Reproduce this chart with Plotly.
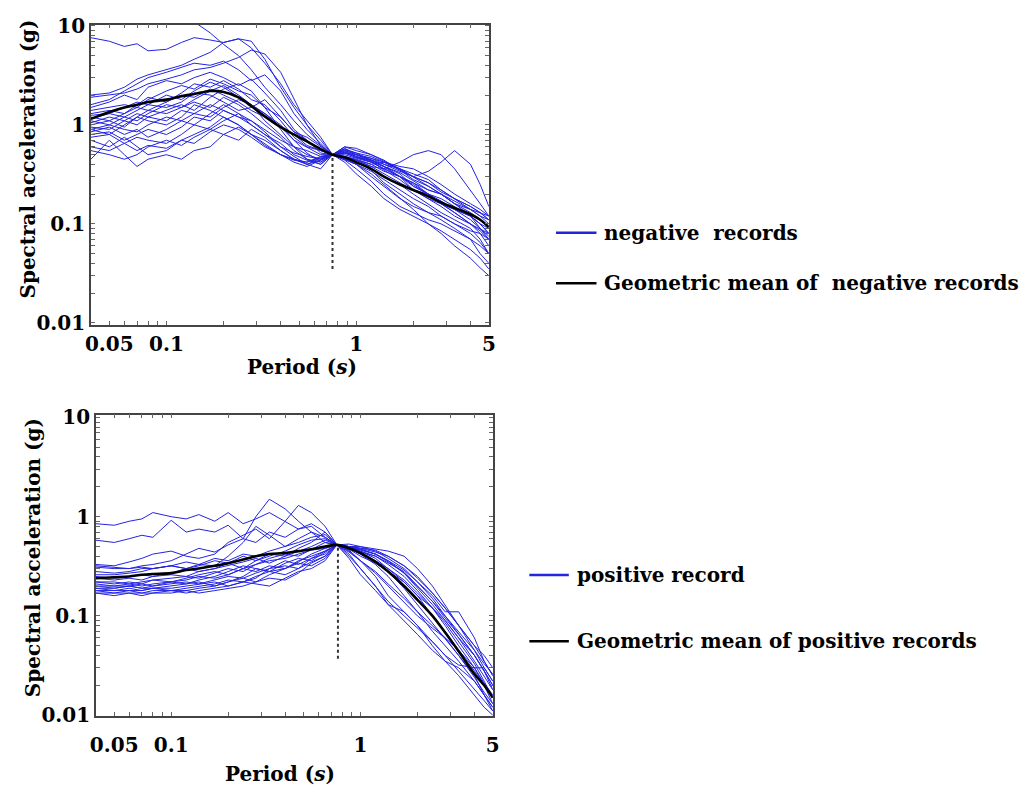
import math
import plotly.graph_objects as go

# ---------------- data ----------------
periods = [0.04, 0.05, 0.06, 0.07, 0.08, 0.1, 0.12, 0.14, 0.17, 0.2,
           0.24, 0.28, 0.33, 0.4, 0.47, 0.55, 0.65, 0.75, 0.87, 1.0,
           1.2, 1.4, 1.7, 2.0, 2.4, 2.8, 3.3, 4.0, 4.5, 5.0]

neg_records = [
    [12, 13, 11, 12.5, 11, 12, 14, 11, 8.5, 6.5, 5.0, 3.6, 2.4, 1.6, 1.1, 0.8, 0.62, 0.5, 0.52, 0.47, 0.44, 0.38, 0.33, 0.27, 0.22, 0.2, 0.17, 0.14, 0.12, 0.1],
    [7.6, 7.0, 6.2, 6.6, 5.6, 5.8, 6.8, 7.6, 7.2, 6.8, 7.4, 6.0, 4.2, 2.6, 1.6, 1.1, 0.75, 0.5, 0.48, 0.45, 0.4, 0.42, 0.35, 0.28, 0.24, 0.2, 0.16, 0.13, 0.11, 0.09],
    [2.0, 2.1, 2.4, 2.9, 3.2, 3.6, 4.0, 4.6, 5.4, 6.8, 7.4, 7.0, 4.6, 2.4, 1.5, 1.0, 0.7, 0.5, 0.55, 0.5, 0.46, 0.4, 0.36, 0.3, 0.26, 0.22, 0.18, 0.15, 0.13, 0.11],
    [1.9, 2.0, 2.1, 2.3, 2.6, 2.9, 3.2, 3.6, 3.8, 4.2, 4.8, 5.7, 5.2, 3.4, 1.8, 1.0, 0.62, 0.5, 0.56, 0.52, 0.44, 0.38, 0.3, 0.26, 0.2, 0.16, 0.13, 0.1, 0.085, 0.07],
    [1.6, 1.8, 2.2, 2.6, 3.0, 3.4, 3.8, 4.2, 4.0, 4.4, 3.6, 2.8, 3.2, 2.2, 1.3, 0.9, 0.65, 0.5, 0.46, 0.44, 0.38, 0.36, 0.42, 0.5, 0.55, 0.5, 0.36, 0.22, 0.16, 0.12],
    [1.5, 1.7, 2.0, 1.8, 2.4, 2.8, 2.6, 3.0, 3.4, 3.0, 2.5, 2.9, 2.1, 1.4, 0.9, 0.7, 0.55, 0.5, 0.6, 0.58, 0.5, 0.44, 0.35, 0.3, 0.34, 0.42, 0.55, 0.4, 0.25, 0.15],
    [1.4, 1.5, 1.6, 1.5, 1.8, 2.2, 2.5, 2.3, 2.9, 2.6, 2.2, 2.0, 1.5, 1.2, 0.85, 0.75, 0.6, 0.5, 0.45, 0.4, 0.3, 0.24, 0.18, 0.15, 0.13, 0.12, 0.1, 0.085, 0.08, 0.07],
    [1.3, 1.4, 1.3, 1.6, 1.9, 1.7, 2.1, 2.6, 2.4, 2.8, 2.3, 1.8, 1.6, 1.1, 0.75, 0.6, 0.55, 0.5, 0.52, 0.47, 0.42, 0.36, 0.3, 0.25, 0.2, 0.18, 0.15, 0.12, 0.1, 0.08],
    [1.25, 1.3, 1.5, 1.7, 1.6, 2.0, 1.8, 2.2, 2.7, 2.4, 1.9, 1.6, 1.3, 1.0, 0.7, 0.52, 0.42, 0.5, 0.58, 0.5, 0.43, 0.35, 0.28, 0.22, 0.2, 0.17, 0.14, 0.12, 0.09, 0.075],
    [1.2, 1.1, 1.3, 1.5, 1.4, 1.7, 2.0, 1.9, 2.3, 2.0, 1.7, 1.4, 1.2, 0.95, 0.8, 0.62, 0.55, 0.5, 0.44, 0.36, 0.27, 0.2, 0.15, 0.13, 0.11, 0.1, 0.085, 0.07, 0.06, 0.05],
    [1.15, 1.3, 1.2, 1.4, 1.6, 1.5, 1.7, 2.1, 2.0, 1.7, 1.4, 1.5, 1.8, 1.2, 0.85, 0.7, 0.52, 0.5, 0.6, 0.55, 0.5, 0.43, 0.36, 0.32, 0.28, 0.22, 0.18, 0.14, 0.12, 0.11],
    [1.1, 1.0, 1.2, 1.1, 1.3, 1.6, 1.5, 1.8, 2.2, 2.5, 2.0, 1.6, 1.1, 0.8, 0.6, 0.5, 0.45, 0.5, 0.47, 0.44, 0.4, 0.34, 0.3, 0.26, 0.22, 0.2, 0.16, 0.14, 0.13, 0.12],
    [1.05, 1.2, 1.1, 1.3, 1.2, 1.4, 1.6, 1.4, 1.9, 2.3, 2.6, 2.2, 1.5, 0.9, 0.6, 0.45, 0.42, 0.5, 0.53, 0.48, 0.42, 0.38, 0.32, 0.24, 0.2, 0.16, 0.13, 0.1, 0.08, 0.06],
    [1.0, 1.1, 0.95, 1.2, 1.4, 1.3, 1.5, 1.7, 1.5, 1.9, 1.6, 1.3, 1.0, 0.75, 0.55, 0.45, 0.4, 0.5, 0.55, 0.5, 0.44, 0.4, 0.34, 0.3, 0.26, 0.21, 0.18, 0.15, 0.13, 0.11],
    [0.95, 0.9, 1.1, 1.0, 1.2, 1.1, 1.4, 1.3, 1.6, 1.4, 1.2, 1.1, 0.9, 0.7, 0.6, 0.55, 0.48, 0.5, 0.47, 0.42, 0.36, 0.3, 0.25, 0.2, 0.16, 0.13, 0.11, 0.09, 0.07, 0.05],
    [0.9, 1.0, 0.9, 0.85, 1.0, 1.2, 1.1, 1.3, 1.2, 1.5, 1.8, 1.6, 1.3, 0.95, 0.7, 0.6, 0.5, 0.5, 0.57, 0.52, 0.48, 0.42, 0.38, 0.36, 0.3, 0.25, 0.2, 0.16, 0.14, 0.12],
    [0.9, 0.8, 1.0, 1.2, 1.1, 1.0, 1.2, 1.6, 1.4, 1.2, 1.0, 0.8, 0.7, 0.55, 0.45, 0.42, 0.48, 0.5, 0.45, 0.4, 0.34, 0.28, 0.22, 0.18, 0.15, 0.12, 0.1, 0.08, 0.065, 0.05],
    [0.85, 0.95, 0.8, 0.9, 0.75, 0.9, 1.1, 1.0, 1.3, 1.6, 1.3, 1.0, 0.8, 0.65, 0.5, 0.44, 0.4, 0.5, 0.54, 0.48, 0.44, 0.38, 0.3, 0.22, 0.18, 0.16, 0.14, 0.12, 0.1, 0.08],
    [0.8, 0.85, 0.7, 0.8, 0.9, 0.8, 0.95, 1.2, 1.1, 1.4, 1.2, 1.0, 0.8, 0.6, 0.52, 0.48, 0.45, 0.5, 0.46, 0.42, 0.35, 0.26, 0.2, 0.16, 0.13, 0.11, 0.09, 0.07, 0.05, 0.04],
    [0.75, 0.8, 0.65, 0.75, 0.7, 0.65, 0.8, 1.0, 0.9, 1.1, 1.3, 1.1, 0.85, 0.6, 0.48, 0.4, 0.36, 0.5, 0.52, 0.5, 0.46, 0.42, 0.36, 0.3, 0.24, 0.2, 0.16, 0.12, 0.1, 0.09],
    [0.7, 0.6, 0.75, 0.6, 0.5, 0.55, 0.7, 0.8, 0.95, 1.2, 1.0, 0.8, 0.65, 0.5, 0.42, 0.38, 0.44, 0.5, 0.42, 0.32, 0.24, 0.18, 0.14, 0.12, 0.1, 0.085, 0.07, 0.055, 0.045, 0.035],
    [0.6, 0.55, 0.65, 0.55, 0.62, 0.58, 0.7, 0.65, 0.85, 1.0, 0.9, 0.75, 0.6, 0.5, 0.45, 0.4, 0.46, 0.5, 0.48, 0.44, 0.38, 0.32, 0.26, 0.22, 0.18, 0.15, 0.12, 0.1, 0.09, 0.08],
    [0.55, 0.5, 0.45, 0.5, 0.6, 0.7, 0.62, 0.75, 0.9, 0.8, 0.95, 0.8, 0.62, 0.5, 0.44, 0.42, 0.47, 0.5, 0.5, 0.46, 0.42, 0.36, 0.3, 0.24, 0.2, 0.16, 0.14, 0.11, 0.09, 0.07],
    [0.45, 0.7, 0.5, 0.38, 0.45, 0.5, 0.45, 0.55, 0.6, 0.8, 0.7, 0.9, 0.75, 0.55, 0.45, 0.4, 0.44, 0.5, 0.45, 0.4, 0.32, 0.25, 0.18, 0.14, 0.1, 0.08, 0.06, 0.045, 0.036, 0.03],
]

neg_mean = [1.15, 1.35, 1.5, 1.6, 1.7, 1.8, 1.95, 2.05, 2.2, 2.15,
            1.9, 1.55, 1.22, 0.95, 0.8, 0.68, 0.57, 0.5, 0.47, 0.42,
            0.36, 0.3, 0.25, 0.22, 0.19, 0.165, 0.145, 0.125, 0.11, 0.093]

pos_records = [
    [0.85, 0.82, 0.9, 0.95, 1.1, 1.0, 0.95, 1.05, 0.9, 1.1, 0.85, 0.95, 1.1, 0.9, 0.75, 0.8, 0.62, 0.52, 0.5, 0.5, 0.47, 0.45, 0.4, 0.3, 0.2, 0.13, 0.08, 0.045, 0.03, 0.022],
    [0.58, 0.55, 0.6, 0.65, 0.62, 0.92, 0.7, 0.75, 0.7, 0.82, 0.6, 1.0, 1.5, 1.2, 0.9, 0.7, 0.55, 0.52, 0.5, 0.45, 0.38, 0.3, 0.22, 0.16, 0.1, 0.07, 0.045, 0.028, 0.02, 0.015],
    [0.33, 0.32, 0.35, 0.38, 0.42, 0.45, 0.4, 0.38, 0.42, 0.55, 0.65, 0.75, 0.6, 0.9, 1.3, 1.1, 0.8, 0.52, 0.5, 0.48, 0.44, 0.4, 0.32, 0.25, 0.17, 0.12, 0.08, 0.05, 0.035, 0.025],
    [0.32, 0.31, 0.3, 0.32, 0.33, 0.36, 0.42, 0.48, 0.44, 0.52, 0.6, 0.55, 0.7, 0.62, 0.75, 0.85, 0.7, 0.52, 0.48, 0.42, 0.33, 0.25, 0.16, 0.11, 0.07, 0.05, 0.035, 0.022, 0.016, 0.012],
    [0.31, 0.3, 0.3, 0.31, 0.3, 0.32, 0.3, 0.33, 0.32, 0.4, 0.55, 0.8, 0.65, 0.5, 0.6, 0.7, 0.62, 0.52, 0.53, 0.5, 0.45, 0.38, 0.3, 0.22, 0.16, 0.11, 0.11, 0.06, 0.035, 0.025],
    [0.28, 0.27, 0.28, 0.3, 0.3, 0.32, 0.35, 0.33, 0.38, 0.36, 0.42, 0.4, 0.45, 0.5, 0.55, 0.62, 0.66, 0.52, 0.4, 0.3, 0.2, 0.14, 0.1, 0.075, 0.055, 0.04, 0.028, 0.018, 0.014, 0.011],
    [0.25, 0.24, 0.25, 0.26, 0.25, 0.27, 0.3, 0.32, 0.36, 0.34, 0.3, 0.36, 0.42, 0.4, 0.48, 0.55, 0.7, 0.52, 0.5, 0.48, 0.46, 0.4, 0.32, 0.24, 0.17, 0.12, 0.08, 0.05, 0.04, 0.03],
    [0.24, 0.23, 0.24, 0.23, 0.25, 0.26, 0.25, 0.28, 0.3, 0.32, 0.35, 0.38, 0.34, 0.4, 0.45, 0.5, 0.58, 0.52, 0.48, 0.44, 0.4, 0.34, 0.28, 0.2, 0.14, 0.095, 0.065, 0.04, 0.028, 0.018],
    [0.22, 0.22, 0.21, 0.22, 0.23, 0.24, 0.25, 0.24, 0.27, 0.3, 0.28, 0.33, 0.36, 0.38, 0.42, 0.46, 0.48, 0.52, 0.5, 0.44, 0.36, 0.28, 0.19, 0.13, 0.085, 0.06, 0.04, 0.024, 0.017, 0.013],
    [0.21, 0.2, 0.21, 0.2, 0.21, 0.22, 0.23, 0.25, 0.24, 0.26, 0.3, 0.28, 0.32, 0.3, 0.36, 0.4, 0.45, 0.52, 0.42, 0.3, 0.2, 0.13, 0.09, 0.065, 0.045, 0.035, 0.025, 0.016, 0.012, 0.01],
    [0.2, 0.2, 0.2, 0.21, 0.2, 0.22, 0.21, 0.23, 0.25, 0.28, 0.32, 0.3, 0.28, 0.34, 0.38, 0.36, 0.44, 0.52, 0.47, 0.4, 0.34, 0.28, 0.22, 0.16, 0.12, 0.09, 0.06, 0.04, 0.028, 0.02],
    [0.2, 0.19, 0.2, 0.19, 0.2, 0.21, 0.22, 0.21, 0.23, 0.25, 0.24, 0.27, 0.3, 0.32, 0.3, 0.38, 0.42, 0.52, 0.5, 0.47, 0.42, 0.36, 0.27, 0.19, 0.13, 0.09, 0.06, 0.035, 0.025, 0.018],
    [0.19, 0.19, 0.2, 0.19, 0.19, 0.2, 0.21, 0.22, 0.2, 0.22, 0.25, 0.3, 0.28, 0.26, 0.3, 0.35, 0.4, 0.52, 0.38, 0.26, 0.18, 0.13, 0.11, 0.08, 0.05, 0.035, 0.03, 0.022, 0.016, 0.012],
    [0.19, 0.18, 0.19, 0.18, 0.19, 0.19, 0.2, 0.21, 0.22, 0.2, 0.22, 0.25, 0.28, 0.3, 0.34, 0.32, 0.38, 0.52, 0.48, 0.42, 0.36, 0.3, 0.23, 0.17, 0.12, 0.085, 0.055, 0.033, 0.022, 0.015],
    [0.18, 0.18, 0.18, 0.18, 0.19, 0.18, 0.19, 0.2, 0.21, 0.23, 0.22, 0.24, 0.3, 0.36, 0.33, 0.38, 0.45, 0.52, 0.46, 0.36, 0.27, 0.2, 0.14, 0.1, 0.075, 0.06, 0.04, 0.025, 0.016, 0.011],
    [0.18, 0.17, 0.18, 0.17, 0.18, 0.18, 0.18, 0.19, 0.2, 0.22, 0.24, 0.22, 0.26, 0.3, 0.35, 0.42, 0.48, 0.52, 0.49, 0.45, 0.4, 0.33, 0.25, 0.18, 0.12, 0.08, 0.05, 0.03, 0.02, 0.013],
    [0.17, 0.17, 0.17, 0.17, 0.17, 0.18, 0.17, 0.18, 0.19, 0.2, 0.22, 0.21, 0.2, 0.24, 0.28, 0.3, 0.36, 0.52, 0.45, 0.36, 0.25, 0.16, 0.11, 0.08, 0.055, 0.04, 0.032, 0.03, 0.03, 0.022],
    [0.17, 0.16, 0.17, 0.16, 0.17, 0.17, 0.18, 0.17, 0.18, 0.19, 0.2, 0.22, 0.24, 0.23, 0.27, 0.34, 0.4, 0.52, 0.5, 0.46, 0.42, 0.36, 0.29, 0.22, 0.15, 0.1, 0.065, 0.04, 0.028, 0.02],
    [0.22, 0.21, 0.22, 0.21, 0.23, 0.22, 0.24, 0.26, 0.28, 0.26, 0.3, 0.33, 0.38, 0.42, 0.4, 0.47, 0.55, 0.52, 0.5, 0.47, 0.42, 0.35, 0.27, 0.2, 0.14, 0.1, 0.07, 0.045, 0.033, 0.026],
    [0.26, 0.26, 0.27, 0.28, 0.3, 0.32, 0.3, 0.28, 0.3, 0.34, 0.4, 0.36, 0.4, 0.45, 0.52, 0.58, 0.6, 0.52, 0.44, 0.36, 0.28, 0.21, 0.15, 0.11, 0.08, 0.06, 0.045, 0.03, 0.021, 0.016],
]

pos_mean = [0.24, 0.245, 0.25, 0.26, 0.265, 0.27, 0.29, 0.3, 0.32, 0.34,
            0.37, 0.4, 0.42, 0.43, 0.45, 0.47, 0.5, 0.52, 0.48, 0.43,
            0.35, 0.28, 0.2, 0.145, 0.1, 0.068, 0.044, 0.026, 0.02, 0.015]

T1_neg = 0.75
T1_pos = 0.76
dotted_neg = [0.035, 0.5]
dotted_pos = [0.037, 0.52]

x_tick_labels = [0.05, 0.1, 1, 5]
y_tick_labels = [0.01, 0.1, 1, 10]

legend_neg = ["negative  records", "Geometric mean of  negative records"]
legend_pos = ["positive record", "Geometric mean of positive records"]

# ---------------- styling ----------------
W, H = 1034, 798
BLUE = "rgb(35,35,225)"
FONT = "DejaVu Serif"
TICK_FONT = dict(family=FONT, size=20, color="black", weight="bold")


def px_x(p):
    return p / W


def px_y(p):
    return 1 - p / H


# minor + major tick positions
x_tickvals, x_ticktext = [], []
for dec in [0.01, 0.1, 1]:
    for m in range(1, 10):
        v = round(m * dec, 4)
        if 0.04 <= v <= 5:
            x_tickvals.append(v)
            x_ticktext.append(("%g" % v) if v in x_tick_labels else "")
y_tickvals, y_ticktext = [], []
for dec in [0.01, 0.1, 1, 10]:
    for m in range(1, 10):
        v = round(m * dec, 4)
        if v <= 10:
            y_tickvals.append(v)
            y_ticktext.append(("%g" % v) if v in y_tick_labels else "")

fig = go.Figure()


def add_panel(records, mean, T1, dotted, xa, ya):
    for r in records:
        fig.add_trace(go.Scatter(x=periods, y=r, mode="lines", xaxis=xa, yaxis=ya,
                                 line=dict(color=BLUE, width=1), showlegend=False,
                                 hoverinfo="skip"))
    fig.add_trace(go.Scatter(x=[T1, T1], y=dotted, mode="lines", xaxis=xa, yaxis=ya,
                             line=dict(color="#333", width=2, dash="dot"),
                             showlegend=False, hoverinfo="skip"))
    fig.add_trace(go.Scatter(x=periods, y=mean, mode="lines", xaxis=xa, yaxis=ya,
                             line=dict(color="black", width=2.6, shape="spline"),
                             showlegend=False))


add_panel(neg_records, neg_mean, T1_neg, dotted_neg, "x", "y")
add_panel(pos_records, pos_mean, T1_pos, dotted_pos, "x2", "y2")

axis_common = dict(type="log", showgrid=False, zeroline=False, showline=True,
                   linecolor="#444", linewidth=1.5, mirror="ticks", ticks="inside",
                   ticklen=4, tickcolor="#666", tickfont=TICK_FONT, tickmode="array")

xrange = [math.log10(0.04), math.log10(5)]

fig.update_layout(
    width=W, height=H, autosize=False,
    margin=dict(l=0, r=0, t=0, b=0),
    paper_bgcolor="white", plot_bgcolor="white",
    xaxis=dict(axis_common, domain=[px_x(86), px_x(489)], range=xrange,
               tickvals=x_tickvals, ticktext=x_ticktext, anchor="y"),
    yaxis=dict(axis_common, domain=[px_y(323), px_y(14)],
               range=[math.log10(0.0095), math.log10(10.3)],
               tickvals=y_tickvals, ticktext=y_ticktext, anchor="x"),
    xaxis2=dict(axis_common, domain=[px_x(91), px_x(493)], range=xrange,
                tickvals=x_tickvals, ticktext=x_ticktext, anchor="y2",
                ticklabelstandoff=10),
    yaxis2=dict(axis_common, domain=[px_y(725), px_y(415)],
                range=[math.log10(0.0098), math.log10(10.7)],
                tickvals=y_tickvals, ticktext=y_ticktext, anchor="x2"),
)

ann_font = dict(family=FONT, size=20, color="black")
annotations = [
    dict(text="<b>Spectral acceleration (g)</b>", x=px_x(22), y=px_y(152), textangle=-90),
    dict(text="<b>Period (<i>s</i>)</b>", x=px_x(300), y=px_y(366)),
    dict(text="<b>Spectral acceleration (g)</b>", x=px_x(27), y=px_y(562), textangle=-90),
    dict(text="<b>Period (<i>s</i>)</b>", x=px_x(277), y=px_y(785)),
]
for a in annotations:
    a.update(xref="paper", yref="paper", showarrow=False, font=ann_font,
             xanchor="center", yanchor="middle")

# legends drawn as line samples + text
leg_items = [
    (legend_neg[0], BLUE, 557, 598, 604, 228),
    (legend_neg[1], "black", 557, 598, 604, 280),
    (legend_pos[0], BLUE, 530, 570, 576, 580),
    (legend_pos[1], "black", 530, 570, 576, 648),
]
shapes = []
for text, col, x0, x1, tx, ty in leg_items:
    shapes.append(dict(type="line", xref="paper", yref="paper",
                       x0=px_x(x0), x1=px_x(x1), y0=px_y(ty), y1=px_y(ty),
                       line=dict(color=col, width=2.5)))
    annotations.append(dict(text="<b>%s</b>" % text, xref="paper", yref="paper",
                            x=px_x(tx), y=px_y(ty), xanchor="left", yanchor="middle",
                            showarrow=False, font=dict(family=FONT, size=20, color="black")))

fig.update_layout(annotations=annotations, shapes=shapes)

fig.write_html("out.html")
